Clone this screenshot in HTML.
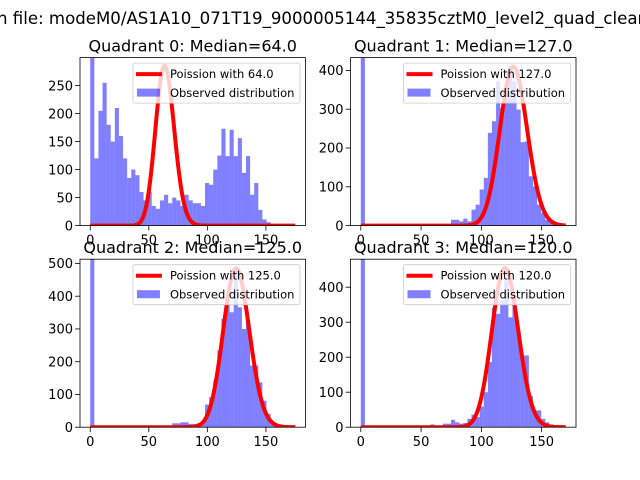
<!DOCTYPE html>
<html><head><meta charset="utf-8"><style>
html,body{margin:0;padding:0;background:#fff}
svg{display:block;font-family:"DejaVu Sans","Liberation Sans",sans-serif}
</style></head><body>
<svg id="fig" width="640" height="480" viewBox="0 0 640 480">
<text x="-3" y="24" font-size="16.6">n file: modeM0/AS1A10_071T19_9000005144_35835cztM0_level2_quad_clean.evt</text>
</svg>
<script>
// Data arrays
const quadrantNames = ["Quadrant 0: Median=64.0","Quadrant 1: Median=127.0","Quadrant 2: Median=125.0","Quadrant 3: Median=120.0"];
const medians = [64.0, 127.0, 125.0, 120.0];
const binWidths = [3.5, 3.4, 3.5, 3.4];
const q0Counts = [310,120,205,255,180,150,210,160,120,85,100,90,60,45,60,35,30,45,55,40,50,45,35,55,45,40,40,35,76,73,100,125,173,124,171,124,156,94,124,55,76,28,11,6,3,2,2,1,1,0];
const q1Counts = [440,0,0,0,0,0,0,0,0,0,0,0,0,0,0,0,0,0,0,0,0,0,15,15,11,18,11,41,54,93,123,239,269,372,303,342,412,372,299,215,217,127,101,54,33,15,7,2,1,0];
const q2Counts = [520,0,0,0,0,0,0,0,0,0,0,0,0,0,0,0,0,0,0,0,12,12,15,15,10,10,12,15,69,92,142,234,331,377,351,489,366,300,328,188,188,137,81,41,12,8,3,1,0,0];
const q3Counts = [490,0,0,0,0,0,0,0,0,0,0,0,0,0,0,0,0,8,0,0,10,10,21,14,10,12,24,36,29,59,100,186,341,324,362,419,314,381,276,205,205,89,48,48,24,14,8,3,0,0];
const poissonPeaks = [285, 410, 485, 455];
const poissonEnds = [175, 170, 175, 170];
const xDomains = [[-8.75,183.75],[-8.5,178.5],[-8.75,183.75],[-8.5,178.5]];
const yMaxes = [300, 433, 513, 480];
const yTickLabels = [[0,50,100,150,200,250],[0,100,200,300,400],[0,100,200,300,400,500],[0,100,200,300,400]];
const xTickLabels = [0,50,100,150];

const allCounts = [q0Counts,q1Counts,q2Counts,q3Counts];
const NS="http://www.w3.org/2000/svg";
const svg=document.getElementById('fig');
function mk(tag,attrs,parent){const e=document.createElementNS(NS,tag);for(const k in attrs)e.setAttribute(k,attrs[k]);(parent||svg).appendChild(e);return e;}
const axW=225.45, axH=168;
const axPos=[[80,57.6],[350.55,57.6],[80,259.2],[350.55,259.2]];
function lnFact(k){let s=0;for(let i=2;i<=k;i++)s+=Math.log(i);return s;}

for(let q=0;q<4;q++){
  const [ax,ay]=axPos[q];
  const g=mk('g',{});
  
  
  const [x0,x1]=xDomains[q];
  const X=v=>ax+(v-x0)/(x1-x0)*axW;
  const Y=v=>ay+axH-v/yMaxes[q]*axH;
  const clipId='clip'+q;
  const cp=mk('clipPath',{id:clipId},g);
  mk('rect',{x:ax,y:ay-3,width:axW,height:axH+3},cp);
  const plot=mk('g',{'clip-path':'url(#'+clipId+')'},g);
  const counts=allCounts[q], bw=binWidths[q];
  counts.forEach((c,i)=>{
    if(c<=0)return;
    const top=Math.max(Y(c),ay);
    const r=mk('rect',{x:X(i*bw),y:top,width:X((i+1)*bw)-X(i*bw),height:Y(0)-top,fill:'#0000ff','fill-opacity':0.5},plot);
    
    
  });
  const lam=medians[q];
  let pts=[],vals=[],mx=0;
  for(let k=0;k<=poissonEnds[q];k++){const v=Math.exp(k*Math.log(lam)-lam-lnFact(k));vals.push(v);if(v>mx)mx=v;}
  vals.forEach((v,k)=>pts.push(X(k).toFixed(2)+','+Y(v/mx*poissonPeaks[q]).toFixed(2)));
  const pl=mk('polyline',{points:pts.join(' '),fill:'none',stroke:'#ff0000','stroke-width':4,'stroke-linejoin':'round'},plot);
  
  
  mk('rect',{x:ax,y:ay,width:axW,height:axH,fill:'none',stroke:'#000','stroke-width':0.8},g);
  xTickLabels.forEach(t=>{
    const x=X(t);
    mk('line',{x1:x,y1:ay+axH,x2:x,y2:ay+axH+4.9,stroke:'#000','stroke-width':0.8},g);
    const tx=mk('text',{x:x,y:ay+axH+19,'font-size':13,'text-anchor':'middle'},g);
    tx.textContent=t;
    
    
  });
  yTickLabels[q].forEach(t=>{
    const y=Y(t);
    mk('line',{x1:ax,y1:y,x2:ax-4.9,y2:y,stroke:'#000','stroke-width':0.8},g);
    const tx=mk('text',{x:ax-7,y:y+4.7,'font-size':13,'text-anchor':'end'},g);
    tx.textContent=t;
    
    
  });
  const tt=mk('text',{x:ax+axW/2,y:ay-6,'font-size':16,'text-anchor':'middle'},g);
  tt.textContent=quadrantNames[q];
  
  
  const lg=mk('g',{},g);
  
  
  const lx=ax+axW-172.5, ly=ay+5.5;
  mk('rect',{x:lx,y:ly,width:167,height:40,rx:2,fill:'#fff','fill-opacity':0.8,stroke:'#ccc','stroke-width':0.8},lg);
  mk('line',{x1:lx+3,y1:ly+11,x2:lx+29,y2:ly+11,stroke:'#ff0000','stroke-width':4},lg);
  const t1=mk('text',{x:lx+37,y:ly+15,'font-size':11.5},lg);
  t1.textContent='Poission with '+medians[q].toFixed(1);
  
  
  mk('rect',{x:lx+4,y:ly+25.5,width:23,height:8,fill:'#0000ff','fill-opacity':0.5},lg);
  const t2=mk('text',{x:lx+37,y:ly+34,'font-size':11.5},lg);
  t2.textContent='Observed distribution';
  
  
}
</script>
</body></html>
